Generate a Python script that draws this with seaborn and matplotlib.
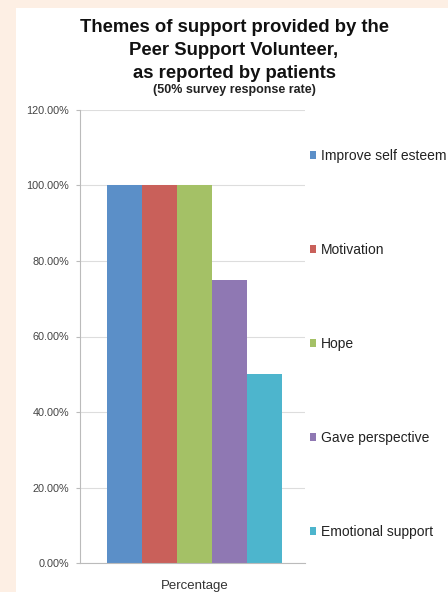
import matplotlib
matplotlib.use("Agg")
import matplotlib.pyplot as plt
import matplotlib.patches as mpatches
import seaborn as sns
import pandas as pd

themes = ["Improve self esteem", "Motivation", "Hope", "Gave perspective", "Emotional support"]
values = [100.0, 100.0, 100.0, 75.0, 50.0]
category = ["Percentage"] * 5
colors = ["#5B8FC8", "#C9605A", "#A4C166", "#8F78B3", "#4DB5CD"]
yticks = [0, 20, 40, 60, 80, 100, 120]
ytick_labels = ["0.00%", "20.00%", "40.00%", "60.00%", "80.00%", "100.00%", "120.00%"]

df = pd.DataFrame({"cat": category, "theme": themes, "value": values})

sns.set_theme(style="white")
plt.rcParams['font.family'] = ['Liberation Sans', 'DejaVu Sans']

fig = plt.figure(figsize=(4.48, 5.92), dpi=100, facecolor="#FDEFE4")
# white card
fig.patches.append(mpatches.Rectangle((16/448, 0), 1, 1 - 8/592, transform=fig.transFigure,
                                      facecolor="white", edgecolor="none", zorder=-5))
ax = fig.add_axes([80/448, 1 - 563/592, 225/448, 453/592])
ax.set_facecolor("none")

sns.barplot(data=df, x="cat", y="value", hue="theme", hue_order=themes, palette=colors,
            width=0.78, saturation=1, ax=ax, legend=False, edgecolor="none")

ax.set_ylim(0, 120)
ax.set_xlim(-0.51, 0.4927)
ax.set_yticks(yticks)
ax.set_yticklabels(ytick_labels, fontsize=7.8, color="#444444")
ax.tick_params(axis="x", labelsize=9.5, colors="#333333", length=0, pad=12)
ax.tick_params(axis="y", length=3, width=0.8, color="#BBBBBB", pad=5, left=True)
ax.yaxis.grid(True, color="#DDDDDD", linewidth=0.8)
ax.set_axisbelow(True)
ax.set_xlabel("")
ax.set_ylabel("")
for s in ["top", "right"]:
    ax.spines[s].set_visible(False)
for s in ["left", "bottom"]:
    ax.spines[s].set_color("#BBBBBB")
    ax.spines[s].set_linewidth(0.8)

handles = [mpatches.Patch(facecolor=c, edgecolor="none", label=t) for c, t in zip(colors, themes)]
leg = fig.legend(handles=handles, loc="upper left", bbox_to_anchor=(310/448, 1 - 149/592),
                 frameon=False, fontsize=10.0, labelspacing=5.76, handlelength=0.46,
                 handleheight=0.46, handletextpad=0.3, borderaxespad=0, borderpad=0)
for t in leg.get_texts():
    t.set_color("#222222")

fig.text(234/448, 1 - 19/592, "Themes of support provided by the\nPeer Support Volunteer,\nas reported by patients",
         ha="center", va="top", fontsize=13.3, fontweight="bold", color="#111111",
         linespacing=1.47)
fig.text(234/448, 1 - 90/592, "(50% survey response rate)", ha="center", va="center",
         fontsize=9, fontweight="bold", color="#222222")

fig.savefig("out.png", dpi=100, facecolor=fig.get_facecolor())
